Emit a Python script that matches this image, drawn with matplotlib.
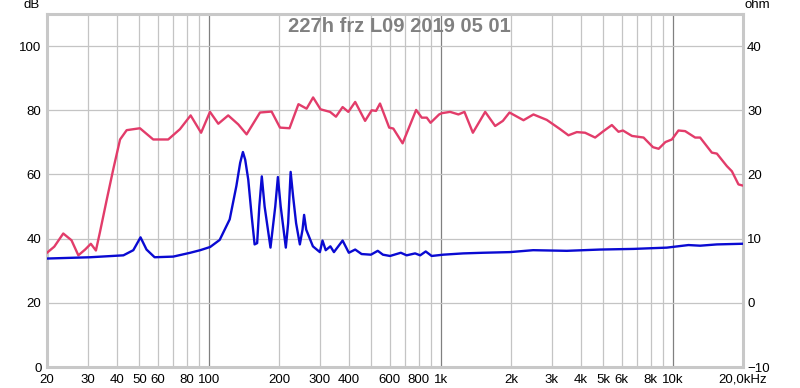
import numpy as np
import matplotlib
matplotlib.use("Agg")
from matplotlib import pyplot as plt
from matplotlib.ticker import FixedLocator, NullFormatter

plt.rcParams['font.family'] = ['Liberation Sans', 'DejaVu Sans']

# SPL curve (Hz, dB)
spl_freq = [20, 21.5, 23.5, 25.5, 27.3, 29.2, 30.9, 32.5, 33.8, 36.2, 38.6, 41.3, 44.1, 50.3,
            57.4, 66.6, 74.8, 83.2, 92.3, 100.8, 109.5, 120.8, 133.5, 145, 165.6,
            185.8, 202, 222, 242.6, 263, 280.6, 302, 332, 352, 376, 398, 426, 470,
            502, 524, 545, 597, 622, 682, 780, 825, 867, 900, 980, 1007, 1093, 1187,
            1260, 1370, 1548, 1709, 1845, 1970, 2264, 2499, 2853, 3259, 3537, 3843,
            4172, 4610, 5007, 5442, 5812, 6073, 6646, 7456, 8184, 8658, 9262, 9871,
            10540, 11264, 12440, 13070, 14680, 15430, 17040, 17910, 19120, 19800]
spl_db = [35.6, 37.5, 41.6, 39.5, 34.8, 36.6, 38.4, 36.3, 41.9, 52.2, 61.6, 70.9, 73.8, 74.4,
          70.9, 70.9, 74.1, 78.4, 73.0, 79.5, 75.8, 78.4, 75.6, 72.5, 79.3,
          79.6, 74.6, 74.4, 81.9, 80.5, 84.0, 80.3, 79.5, 78.0, 81.0, 79.5, 82.6, 76.7,
          80.0, 79.8, 82.1, 74.6, 74.3, 69.7, 80.1, 77.7, 77.7, 76.1, 78.7, 79.1, 79.5, 78.7,
          79.5, 73.0, 79.5, 75.1, 76.7, 79.3, 76.9, 78.7, 77.0, 74.1, 72.2, 73.2,
          73.0, 71.5, 73.5, 75.4, 73.3, 73.7, 72.0, 71.5, 68.5, 68.0, 70.1, 70.9,
          73.7, 73.5, 71.5, 71.5, 66.8, 66.5, 62.6, 61.0, 56.9, 56.6]

# impedance curve (Hz, ohm)
imp_freq = [20, 30.7, 42.7, 47.1, 50.6, 53.7, 58.2, 70, 82.9, 91.5, 101, 111, 122.6,
            131, 136, 139.8, 143, 147.4, 152.5, 157, 161, 164.5, 168.6, 173.4, 183.8,
            192.7, 197.8, 203.4, 214, 219, 224.5, 230, 237, 246, 252.6, 256.6, 262,
            280, 300, 308, 318, 333, 345, 376, 400, 426,
            454, 498, 533, 561, 602, 670, 710, 772, 812, 858, 910, 1020, 1244, 1517,
            1977, 2491, 3480, 4840, 6748, 9394, 11640, 13070, 15430, 19800]
imp_ohm = [6.9, 7.1, 7.4, 8.2, 10.2, 8.3, 7.1, 7.2, 7.8, 8.2, 8.7, 9.8, 13.0,
           18.2, 21.8, 23.5, 22.3, 19.2, 13.5, 9.1, 9.3, 15.0, 19.7, 15.0, 8.6,
           15.0, 19.6, 15.0, 8.6, 12.4, 20.4, 16.6, 12.4, 9.1, 11.4, 13.7, 11.4,
           8.8, 7.9, 9.7, 8.2, 8.8, 7.9, 9.7, 7.8, 8.3,
           7.6, 7.5, 8.1, 7.5, 7.3, 7.8, 7.4, 7.7, 7.4, 8.0, 7.3, 7.5, 7.7, 7.8,
           7.9, 8.2, 8.1, 8.3, 8.4, 8.6, 9.0, 8.9, 9.1, 9.2]

major_ticks = [20, 30, 40, 50, 60, 80, 100, 200, 300, 400, 600, 800, 1000,
               2000, 3000, 4000, 5000, 6000, 8000, 10000, 20000]
major_labels = ['20', '30', '40', '50', '60', '80', '100', '200', '300', '400', '600',
                '800', '1k', '2k', '3k', '4k', '5k', '6k', '8k', '10k', '20,0kHz']
decades = [100, 1000, 10000]
grid_freqs = [f * d for d in (10, 100, 1000) for f in range(2, 10)] + decades + [20000]

fig = plt.figure(figsize=(8, 3.88), dpi=100)
ax = fig.add_axes([47 / 800, 21 / 388, 696 / 800, 353 / 388])
ax.set_xscale('log')
ax.set_xlim(20, 20000)
ax.set_ylim(0, 110)

for f in grid_freqs:
    c = '#808080' if f in decades else '#c4c4c4'
    ax.axvline(f, color=c, lw=0.9, zorder=0)
for v in range(20, 110, 20):
    ax.axhline(v, color='#c4c4c4', lw=0.9, zorder=0)

ax.xaxis.set_major_locator(FixedLocator(major_ticks))
ax.set_xticklabels(major_labels)
ax.xaxis.set_minor_formatter(NullFormatter())
ax.set_yticks(range(0, 101, 20))
ax.tick_params(axis='both', which='both', length=0, labelsize=9.5, colors='black')
ax.tick_params(axis='x', pad=5)
ax.tick_params(axis='y', pad=4)

for s in ax.spines.values():
    s.set_color('#c8c8c8')
    s.set_linewidth(2.2)

ax.plot(spl_freq, spl_db, color='#e23c6a', lw=1.7, zorder=3, solid_joinstyle='round')

ax2 = ax.twinx()
ax2.set_ylim(-10, 45)
ax2.set_yticks(range(-10, 41, 10))
ax2.tick_params(axis='y', length=0, labelsize=9.5, pad=3)
for s in ax2.spines.values():
    s.set_visible(False)
ax2.plot(imp_freq, imp_ohm, color='#0a0ad2', lw=1.7, zorder=3, solid_joinstyle='round')

fig.text(32 / 800, 1 - 5 / 388, 'dB', ha='center', va='center', fontsize=9.5)
fig.text(757 / 800, 1 - 5 / 388, 'ohm', ha='center', va='center', fontsize=9.5)
fig.text(399 / 800, 1 - 26 / 388, '227h frz L09 2019 05 01', ha='center', va='center',
         fontsize=14.5, fontweight='bold', color='#808080')

fig.savefig('out.png', dpi=100)
